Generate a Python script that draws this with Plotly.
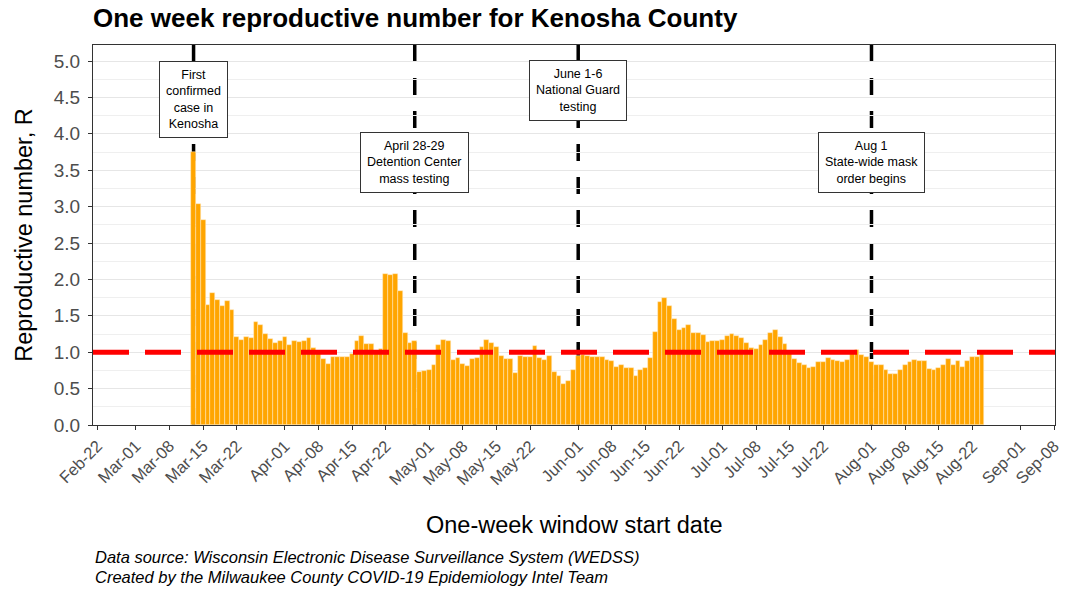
import plotly.graph_objects as go
import pandas as pd

# ---------------- data ----------------
start_date = "2020-03-13"
r_values = [
    # Mar 13 - Mar 31
    3.75, 3.03, 2.81, 1.65, 1.81, 1.72, 1.64, 1.70, 1.58, 1.21,
    1.17, 1.21, 1.20, 1.41, 1.37, 1.25, 1.18, 1.13, 1.15,
    # Apr 1 - Apr 30
    1.21, 1.10, 1.16, 1.14, 1.15, 1.19, 1.06, 1.00, 0.91, 0.84,
    0.93, 0.94, 0.93, 0.93, 0.97, 1.15, 1.22, 1.11, 1.11, 1.00,
    1.05, 2.07, 2.06, 2.08, 1.84, 1.26, 1.12, 1.16, 0.73, 0.74,
    # May 1 - May 31
    0.76, 0.82, 1.10, 1.17, 1.15, 0.89, 0.92, 0.84, 0.81, 0.91,
    0.92, 1.07, 1.17, 1.12, 1.07, 0.95, 0.91, 0.91, 0.72, 0.95,
    0.93, 0.94, 1.09, 0.92, 0.89, 0.95, 0.73, 0.67, 0.57, 0.61,
    0.76,
    # Jun 1 - Jun 30
    0.95, 0.96, 0.95, 0.93, 0.93, 0.93, 0.89, 0.88, 0.80, 0.82,
    0.78, 0.78, 0.68, 0.75, 0.78, 0.92, 1.28, 1.69, 1.75, 1.64,
    1.45, 1.30, 1.33, 1.38, 1.26, 1.26, 1.23, 1.14, 1.15, 1.15,
    # Jul 1 - Jul 31
    1.17, 1.22, 1.25, 1.22, 1.19, 1.13, 1.06, 1.05, 1.10, 1.17,
    1.27, 1.31, 1.21, 1.11, 0.98, 0.91, 0.85, 0.83, 0.78, 0.79,
    0.86, 0.86, 0.92, 0.89, 0.88, 0.86, 0.89, 1.02, 1.03, 0.96,
    0.94,
    # Aug 1 - Aug 24
    0.86, 0.83, 0.83, 0.76, 0.70, 0.70, 0.76, 0.83, 0.87, 0.89,
    0.88, 0.88, 0.77, 0.76, 0.78, 0.83, 0.90, 0.83, 0.88, 0.79,
    0.88, 0.94, 0.94, 0.97,
]
dates = pd.date_range(start_date, periods=len(r_values), freq="D")

tick_dates = [
    "2020-02-22", "2020-03-01", "2020-03-08", "2020-03-15", "2020-03-22",
    "2020-04-01", "2020-04-08", "2020-04-15", "2020-04-22",
    "2020-05-01", "2020-05-08", "2020-05-15", "2020-05-22",
    "2020-06-01", "2020-06-08", "2020-06-15", "2020-06-22",
    "2020-07-01", "2020-07-08", "2020-07-15", "2020-07-22",
    "2020-08-01", "2020-08-08", "2020-08-15", "2020-08-22",
    "2020-09-01", "2020-09-08",
]
tick_labels = [
    "Feb-22", "Mar-01", "Mar-08", "Mar-15", "Mar-22",
    "Apr-01", "Apr-08", "Apr-15", "Apr-22",
    "May-01", "May-08", "May-15", "May-22",
    "Jun-01", "Jun-08", "Jun-15", "Jun-22",
    "Jul-01", "Jul-08", "Jul-15", "Jul-22",
    "Aug-01", "Aug-08", "Aug-15", "Aug-22",
    "Sep-01", "Sep-08",
]

event_dates = ["2020-03-13", "2020-04-28", "2020-06-01", "2020-08-01"]
event_texts = [
    "First<br>confirmed<br>case in<br>Kenosha",
    "April 28-29<br>Detention Center<br>mass testing",
    "June 1-6<br>National Guard<br>testing",
    "Aug 1<br>State-wide mask<br>order begins",
]
event_label_y = [4.47, 3.60, 4.60, 3.60]

reference_r = 1.0
x_range = ["2020-02-21 02:00", "2020-09-08 04:00"]
y_range = [0, 5.22]

FONT = "Liberation Sans, Arial, sans-serif"

# ---------------- figure ----------------
fig = go.Figure()
fig.add_trace(go.Bar(
    x=dates, y=r_values,
    marker=dict(color="#FFA500", line=dict(color="rgba(255,235,200,0.8)", width=0.6)),
    hoverinfo="x+y",
))

shapes = []
for d in event_dates:
    shapes.append(dict(
        type="line", xref="x", yref="paper", x0=d, x1=d, y0=0, y1=1,
        line=dict(color="black", width=3.5, dash="17px,16px"), layer="between",
    ))
shapes.append(dict(
    type="line", xref="paper", yref="y", x0=0, x1=1, y0=reference_r, y1=reference_r,
    line=dict(color="#FF0000", width=5, dash="36px,16px"), layer="above",
))

annotations = []
for d, t, yv in zip(event_dates, event_texts, event_label_y):
    annotations.append(dict(
        x=d, y=yv, xref="x", yref="y", text=t, showarrow=False,
        font=dict(family=FONT, size=12.5, color="black"),
        bgcolor="white", bordercolor="#333333", borderwidth=1, borderpad=6,
        align="center", xanchor="center", yanchor="middle",
    ))

# axis titles and caption
annotations.append(dict(
    text="Reproductive number, R", xref="paper", yref="paper", x=-0.072, y=0.5,
    textangle=-90, showarrow=False, xanchor="center", yanchor="middle",
    font=dict(family=FONT, size=23.5, color="black"),
))
annotations.append(dict(
    text="One-week window start date", xref="paper", yref="paper", x=0.5, y=-0.263,
    showarrow=False, xanchor="center", yanchor="middle",
    font=dict(family=FONT, size=23.5, color="black"),
))
annotations.append(dict(
    text="<i>Data source: Wisconsin Electronic Disease Surveillance System (WEDSS)</i>",
    xref="paper", yref="paper", x=0.0, y=-0.347, showarrow=False,
    xanchor="left", yanchor="middle",
    font=dict(family=FONT, size=16.5, color="black"),
))
annotations.append(dict(
    text="<i>Created by the Milwaukee County COVID-19 Epidemiology Intel Team</i>",
    xref="paper", yref="paper", x=0.0, y=-0.4, showarrow=False,
    xanchor="left", yanchor="middle",
    font=dict(family=FONT, size=16.5, color="black"),
))

fig.update_layout(
    width=1065, height=591,
    margin=dict(l=93, r=10, t=45, b=166, autoexpand=False),
    paper_bgcolor="white", plot_bgcolor="white",
    bargap=0,
    showlegend=False,
    font=dict(family=FONT),
    title=dict(
        text="<b>One week reproductive number for Kenosha County</b>",
        x=0, xref="paper", xanchor="left",
        y=1 - 18 / 591, yref="container", yanchor="middle",
        font=dict(family=FONT, size=26, color="black"),
    ),
    shapes=shapes,
    annotations=annotations,
    xaxis=dict(
        type="date", range=x_range, automargin=False,
        tickmode="array", tickvals=tick_dates, ticktext=tick_labels,
        tickangle=-45, tickfont=dict(family=FONT, size=16.5, color="#4d4d4d"),
        ticks="outside", ticklen=4, tickcolor="#333333", tickwidth=1,
        showgrid=False, zeroline=False,
        showline=True, linecolor="#333333", linewidth=1, mirror=True,
    ),
    yaxis=dict(
        range=y_range, tick0=0, dtick=0.5, tickformat=".1f", automargin=False,
        tickfont=dict(family=FONT, size=19, color="#4d4d4d"),
        ticklabelstandoff=4,
        ticks="outside", ticklen=4, tickcolor="#333333", tickwidth=1,
        showgrid=True, gridcolor="#e6e6e6", gridwidth=1.1,
        minor=dict(dtick=0.25, showgrid=True, gridcolor="#efefef", gridwidth=0.6),
        zeroline=False,
        showline=True, linecolor="#333333", linewidth=1, mirror=True,
    ),
)

fig.write_html(
    "out.html",
    config={"displayModeBar": False},
    post_script="document.body.style.margin='0px';",
)
